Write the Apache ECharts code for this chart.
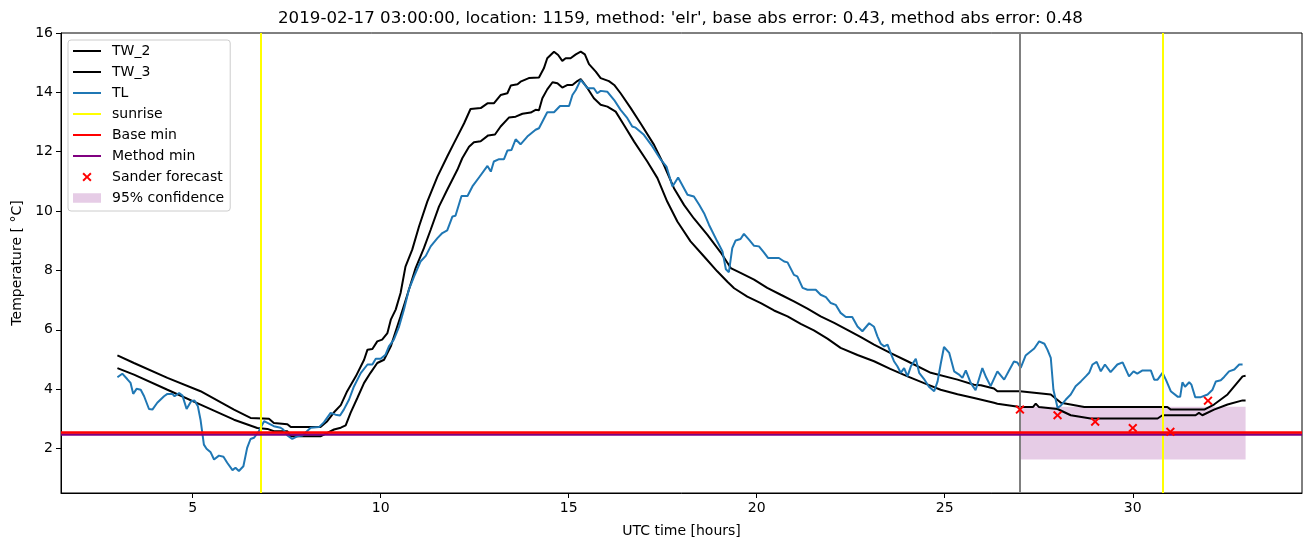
<!DOCTYPE html>
<html>
<head>
<meta charset="utf-8">
<script src="https://cdn.jsdelivr.net/npm/echarts@6/dist/echarts.min.js"></script>
<style>
html,body{margin:0;padding:0;background:#fff;}
#chart{width:1311px;height:547px;}
</style>
</head>
<body>
<div id="chart"></div>
<script>
// ---------- data ----------
const titleText = "2019-02-17 03:00:00, location: 1159, method: 'elr', base abs error: 0.43, method abs error: 0.48";
const xTicks = [5, 10, 15, 20, 25, 30];
const yTicks = [2, 4, 6, 8, 10, 12, 14, 16];

const tw2 = [[3.0,5.14],[3.44,4.88],[4.33,4.38],[5.21,3.93],[6.10,3.31],[6.54,3.03],[7.03,3.00],[7.16,2.86],[7.52,2.82],[7.61,2.72],[8.40,2.72],[8.58,2.92],[8.76,3.22],[8.94,3.46],[9.11,3.93],[9.34,4.43],[9.56,4.99],[9.65,5.33],[9.78,5.35],[9.91,5.61],[10.04,5.67],[10.18,5.89],[10.27,6.34],[10.40,6.68],[10.53,7.24],[10.66,8.13],[10.84,8.70],[11.02,9.48],[11.24,10.32],[11.51,11.16],[11.77,11.84],[11.95,12.29],[12.22,12.96],[12.39,13.44],[12.66,13.47],[12.84,13.63],[13.01,13.63],[13.19,13.91],[13.37,13.97],[13.46,14.23],[13.64,14.27],[13.72,14.36],[13.94,14.48],[14.21,14.50],[14.34,14.81],[14.43,15.15],[14.61,15.37],[14.72,15.26],[14.83,15.06],[14.92,15.15],[15.05,15.15],[15.19,15.28],[15.32,15.37],[15.43,15.28],[15.54,14.95],[15.72,14.70],[15.85,14.48],[16.07,14.38],[16.21,14.25],[16.38,13.97],[16.65,13.47],[16.91,12.96],[17.27,12.23],[17.53,11.56],[17.80,10.77],[18.07,10.20],[18.33,9.75],[18.69,9.20],[19.04,8.61],[19.31,8.08],[19.57,7.92],[19.93,7.69],[20.28,7.41],[20.64,7.18],[20.99,6.96],[21.35,6.71],[21.70,6.45],[22.06,6.23],[22.41,6.00],[22.77,5.75],[23.12,5.50],[23.55,5.22],[24.01,4.94],[24.63,4.55],[25.34,4.32],[25.78,4.15],[25.96,4.13],[26.31,4.02],[26.40,3.93],[27.0,3.93],[27.82,3.82],[28.09,3.54],[28.71,3.40],[30.92,3.40],[31.01,3.31],[31.90,3.31],[32.16,3.48],[32.52,3.82],[32.92,4.43],[33.0,4.45]];

const tw3 = [[3.0,4.71],[3.44,4.49],[4.33,3.98],[5.21,3.48],[6.10,2.97],[6.72,2.69],[6.99,2.66],[7.16,2.58],[7.52,2.58],[7.61,2.41],[8.40,2.41],[8.76,2.64],[8.94,2.70],[9.07,2.78],[9.20,3.20],[9.38,3.70],[9.56,4.21],[9.73,4.55],[9.91,4.88],[10.09,4.99],[10.27,5.44],[10.40,5.95],[10.53,6.45],[10.71,7.18],[10.93,8.08],[11.15,8.75],[11.33,9.37],[11.55,10.15],[11.77,10.72],[12.04,11.39],[12.17,11.78],[12.35,12.17],[12.48,12.32],[12.66,12.35],[12.86,12.55],[13.04,12.58],[13.19,12.85],[13.41,13.15],[13.59,13.18],[13.77,13.28],[13.99,13.32],[14.12,13.41],[14.21,13.40],[14.30,13.80],[14.43,14.10],[14.57,14.34],[14.70,14.31],[14.83,14.16],[14.97,14.25],[15.10,14.25],[15.23,14.38],[15.32,14.45],[15.50,14.14],[15.67,13.80],[15.85,13.58],[16.03,13.52],[16.25,13.35],[16.47,12.90],[16.74,12.34],[17.09,11.67],[17.36,11.11],[17.62,10.32],[17.89,9.65],[18.24,8.98],[18.60,8.47],[18.95,7.97],[19.22,7.62],[19.40,7.40],[19.75,7.12],[20.11,6.90],[20.46,6.65],[20.82,6.45],[21.17,6.20],[21.52,5.98],[21.88,5.70],[22.23,5.39],[22.68,5.15],[23.12,4.94],[23.55,4.68],[24.01,4.43],[24.45,4.20],[24.89,3.98],[25.34,3.83],[25.78,3.70],[26.31,3.54],[26.40,3.51],[27.0,3.40],[27.35,3.40],[27.42,3.51],[27.50,3.40],[28.0,3.33],[28.35,3.12],[28.88,3.01],[30.66,3.01],[30.79,3.12],[31.67,3.12],[31.76,3.20],[31.85,3.12],[32.16,3.31],[32.52,3.48],[32.92,3.62],[33.0,3.62]];

const tl = [[3.0,4.40],[3.13,4.52],[3.26,4.34],[3.35,4.21],[3.42,3.84],[3.51,4.01],[3.62,3.98],[3.71,3.76],[3.84,3.33],[3.93,3.31],[4.06,3.54],[4.24,3.76],[4.33,3.84],[4.46,3.84],[4.52,3.76],[4.64,3.87],[4.73,3.78],[4.84,3.33],[4.96,3.59],[5.05,3.62],[5.14,3.42],[5.21,2.97],[5.30,2.13],[5.37,1.99],[5.48,1.87],[5.57,1.63],[5.70,1.76],[5.82,1.72],[5.92,1.52],[6.06,1.27],[6.14,1.35],[6.23,1.24],[6.35,1.40],[6.45,2.02],[6.54,2.32],[6.63,2.36],[6.68,2.30],[6.76,2.58],[6.90,2.92],[7.03,2.84],[7.16,2.75],[7.34,2.70],[7.41,2.64],[7.52,2.44],[7.65,2.32],[7.78,2.41],[7.92,2.44],[8.14,2.70],[8.36,2.72],[8.49,2.88],[8.67,3.20],[8.80,3.14],[8.92,3.11],[9.02,3.31],[9.16,3.65],[9.29,4.09],[9.47,4.54],[9.65,4.83],[9.78,4.83],[9.87,5.02],[10.0,5.02],[10.13,5.16],[10.22,5.44],[10.35,5.67],[10.49,6.11],[10.62,6.68],[10.75,7.35],[10.89,7.80],[11.06,8.30],[11.20,8.49],[11.33,8.81],[11.51,9.09],[11.64,9.26],[11.77,9.35],[11.91,9.82],[11.99,9.84],[12.15,10.51],[12.31,10.51],[12.44,10.83],[12.62,11.14],[12.84,11.52],[12.93,11.33],[13.01,11.67],[13.15,11.75],[13.28,11.75],[13.37,12.04],[13.48,12.06],[13.59,12.42],[13.72,12.25],[13.90,12.51],[14.12,12.74],[14.21,12.79],[14.43,13.33],[14.61,13.33],[14.77,13.54],[15.01,13.54],[15.10,13.91],[15.19,14.08],[15.32,14.42],[15.50,14.14],[15.67,14.14],[15.76,13.97],[15.85,14.05],[16.03,14.02],[16.21,13.74],[16.38,13.41],[16.56,13.13],[16.69,12.85],[16.78,12.81],[17.00,12.57],[17.23,12.17],[17.45,11.73],[17.60,11.50],[17.76,10.83],[17.91,11.13],[18.16,10.55],[18.33,10.49],[18.47,10.21],[18.60,9.93],[18.73,9.54],[18.95,8.98],[19.09,8.64],[19.18,8.04],[19.26,7.94],[19.35,8.75],[19.44,9.01],[19.57,9.06],[19.66,9.23],[19.80,9.03],[19.93,8.83],[20.06,8.81],[20.19,8.61],[20.30,8.42],[20.59,8.42],[20.73,8.30],[20.82,8.27],[20.99,7.85],[21.08,7.80],[21.22,7.41],[21.35,7.35],[21.57,7.35],[21.70,7.18],[21.84,7.10],[21.97,6.90],[22.10,6.84],[22.23,6.57],[22.37,6.43],[22.54,6.43],[22.68,6.11],[22.81,5.95],[22.99,6.22],[23.12,6.10],[23.21,5.78],[23.30,5.53],[23.39,5.44],[23.48,5.50],[23.56,5.22],[23.65,4.94],[23.74,4.77],[23.83,4.55],[23.92,4.71],[24.01,4.43],[24.10,4.77],[24.23,5.02],[24.32,4.55],[24.45,4.34],[24.58,4.08],[24.72,3.93],[24.81,4.26],[24.89,4.83],[24.98,5.42],[25.12,5.22],[25.25,4.60],[25.38,4.49],[25.47,4.38],[25.56,4.63],[25.69,4.21],[25.82,3.96],[26.00,4.71],[26.10,4.40],[26.22,4.10],[26.40,4.60],[26.58,4.32],[26.71,4.63],[26.84,4.93],[26.93,4.90],[27.02,4.72],[27.15,5.13],[27.38,5.37],[27.51,5.61],[27.65,5.53],[27.73,5.33],[27.82,5.05],[27.89,3.98],[28.00,3.37],[28.09,3.45],[28.22,3.65],[28.35,3.82],[28.48,4.10],[28.62,4.26],[28.75,4.43],[28.84,4.55],[28.93,4.83],[29.04,4.92],[29.15,4.60],[29.26,4.83],[29.41,4.57],[29.59,4.83],[29.73,4.90],[29.90,4.43],[30.02,4.60],[30.12,4.52],[30.26,4.63],[30.48,4.63],[30.57,4.32],[30.66,4.32],[30.79,4.55],[30.88,4.32],[31.01,3.93],[31.20,3.74],[31.26,3.74],[31.32,4.23],[31.39,4.08],[31.50,4.23],[31.56,4.15],[31.66,3.73],[31.81,3.73],[31.99,3.82],[32.12,3.98],[32.21,4.26],[32.34,4.30],[32.43,4.41],[32.56,4.60],[32.70,4.66],[32.83,4.83],[32.92,4.83]];

const sunriseHours = [6.81, 30.80];
const forecastStart = 27.0;
const baseMin = 2.55;
const methodMin = 2.49;
const sanderHours = [27, 28, 29, 30, 31, 32];
const sanderValues = [3.31, 3.12, 2.90, 2.69, 2.56, 3.61];
const confidenceHours = [27.0, 33.0];
const confidenceLow = 1.63;
const confidenceHigh = 3.41;

// ---------- chart ----------
const FONT = 'DejaVu Sans';
// bounding specks keep every icon path at a 28x14 box so it is not stretched
const BOX_A = 'M0,0L0.01,0L0,0.01Z ';
const BOX_B = ' M28,14L27.99,14L28,13.99Z';
const crossPath = 'path://' + BOX_A + 'M9.4,3.9L10.8,2.5L14,5.7L17.2,2.5L18.6,3.9L15.4,7L18.6,10.1L17.2,11.5L14,8.3L10.8,11.5L9.4,10.1L12.6,7Z' + BOX_B;
const bandIcon = 'path://' + BOX_A + 'M0,2.3L28,2.3L28,11.7L0,11.7Z' + BOX_B;
const lineIcon = 'path://' + BOX_A + 'M0,6L28,6L28,8L0,8Z' + BOX_B;
const bandColor = 'rgba(128,0,128,0.2)';

const chart = echarts.init(document.getElementById('chart'), null, {renderer: 'canvas'});

function lineSeries(name, data, color, z) {
  return {
    name: name, type: 'line', data: data, showSymbol: false, symbol: 'none',
    color: color, lineStyle: {color: color, width: 2}, z: z, silent: true,
    emphasis: {disabled: true}
  };
}
function markLineSeries(name, color, width, lines, z) {
  return {
    name: name, type: 'line', data: [], symbol: 'none', color: color,
    lineStyle: {color: color, width: width}, z: z, silent: true,
    markLine: {
      silent: true, symbol: ['none', 'none'], label: {show: false},
      lineStyle: {color: color, width: width, type: 'solid'},
      emphasis: {disabled: true}, animation: false,
      data: lines
    }
  };
}
function legendLine(name, color) {
  return {name: name, icon: lineIcon, itemStyle: {color: color, borderWidth: 0}};
}

const option = {
  animation: false,
  backgroundColor: '#fff',
  title: {
    text: titleText, left: 273, top: 5,
    textStyle: {fontFamily: FONT, fontSize: 16.67, fontWeight: 'normal', color: '#000'}
  },
  grid: {left: 61, right: 9, top: 33, bottom: 54, show: true, borderColor: '#000', borderWidth: 1, backgroundColor: 'transparent'},
  legend: {
    orient: 'vertical', left: 68, top: 40,
    padding: [4, 6, 6, 5],
    itemWidth: 28, itemHeight: 14, itemGap: 7,
    backgroundColor: '#fff', borderColor: '#cccccc', borderWidth: 1, borderRadius: 3,
    textStyle: {fontFamily: FONT, fontSize: 14, color: '#000', lineHeight: 14, padding: [0, 0, 0, 6]},
    selectedMode: false,
    data: [
      legendLine('TW_2', '#000000'), legendLine('TW_3', '#000000'), legendLine('TL', '#1f77b4'),
      legendLine('sunrise', '#ffff00'), legendLine('Base min', '#ff0000'), legendLine('Method min', '#800080'),
      {name: 'Sander forecast', icon: crossPath, itemStyle: {color: '#ff0000', borderWidth: 0}},
      {name: '95% confidence', icon: bandIcon, itemStyle: {color: bandColor, borderWidth: 0}}
    ]
  },
  xAxis: {
    type: 'value', min: 1.5, max: 34.5,
    name: 'UTC time [hours]', nameLocation: 'middle', nameGap: 31,
    nameTextStyle: {fontFamily: FONT, fontSize: 14, color: '#000'},
    axisLine: {show: true, lineStyle: {color: '#000', width: 1}},
    axisTick: {show: true, inside: false, length: 5, customValues: xTicks, lineStyle: {color: '#000', width: 1}},
    axisLabel: {show: true, margin: 8, customValues: xTicks, fontFamily: FONT, fontSize: 14, color: '#000'},
    splitLine: {show: false}
  },
  yAxis: {
    type: 'value', min: 0.5, max: 16,
    name: 'Temperature [ °C]', nameLocation: 'middle', nameGap: 37, nameRotate: 90,
    nameTextStyle: {fontFamily: FONT, fontSize: 14, color: '#000'},
    axisLine: {show: true, lineStyle: {color: '#000', width: 1}},
    axisTick: {show: true, inside: false, length: 5, customValues: yTicks, lineStyle: {color: '#000', width: 1}},
    axisLabel: {show: true, margin: 8, customValues: yTicks, fontFamily: FONT, fontSize: 14, color: '#000', showMaxLabel: true},
    splitLine: {show: false}
  },
  series: [
    {
      name: '95% confidence', type: 'line', data: [], symbol: 'none', color: bandColor,
      itemStyle: {color: bandColor}, lineStyle: {color: bandColor}, z: 1, silent: true,
      markArea: {
        silent: true, itemStyle: {color: bandColor}, label: {show: false},
        emphasis: {disabled: true},
        data: [[{xAxis: confidenceHours[0], yAxis: confidenceLow}, {xAxis: confidenceHours[1], yAxis: confidenceHigh}]]
      }
    },
    lineSeries('TW_2', tw2, '#000000', 3),
    lineSeries('TW_3', tw3, '#000000', 3),
    lineSeries('TL', tl, '#1f77b4', 4),
    markLineSeries('sunrise', '#ffff00', 2, sunriseHours.map(h => ({xAxis: h})), 5),
    markLineSeries('forecast start', '#808080', 2, [{xAxis: forecastStart}], 5),
    markLineSeries('Method min', '#800080', 2.5, [{yAxis: methodMin}], 6),
    markLineSeries('Base min', '#ff0000', 2.5, [{yAxis: baseMin}], 7),
    {
      name: 'Sander forecast', type: 'scatter',
      data: sanderHours.map((h, i) => [h, sanderValues[i]]),
      symbol: crossPath, symbolSize: [28, 14], color: '#ff0000',
      itemStyle: {color: '#ff0000', opacity: 1}, z: 8, silent: true, emphasis: {disabled: true}
    }
  ]
};
chart.setOption(option);
</script>
</body>
</html>
